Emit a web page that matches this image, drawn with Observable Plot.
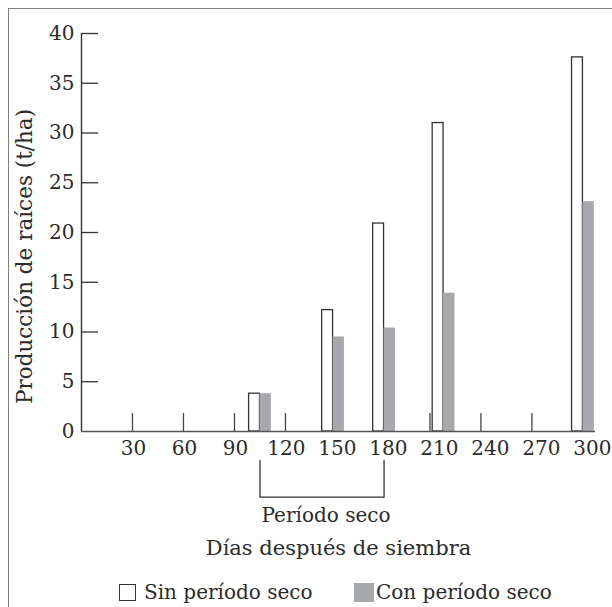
<!DOCTYPE html>
<html>
<head>
<meta charset="utf-8">
<script src="https://cdn.jsdelivr.net/npm/d3@7"></script>
<script src="https://cdn.jsdelivr.net/npm/@observablehq/plot@0.6"></script>
<style>
  html, body { margin: 0; padding: 0; background: #fff; overflow: hidden; }
  #wrap { position: relative; width: 612px; height: 607px; overflow: hidden; font-family: "DejaVu Serif", serif; color: #2b2b2b; }
  #frame { position: absolute; left: 8px; top: 8px; width: 700px; height: 700px; border-left: 1.5px solid #808080; border-top: 1.5px solid #808080; box-sizing: border-box; pointer-events: none; }
  #chart { position: absolute; left: 0; top: 0; }
  #legend { position: absolute; left: 0; top: 581px; width: 612px; height: 26px; font-size: 20px; line-height: 22px; }
  .item { position: absolute; top: 0; display: flex; align-items: center; }
  .sw { display: inline-block; width: 17px; height: 17px; box-sizing: border-box; margin-right: 8px; }
</style>
</head>
<body>
<div id="wrap">
  <div id="chart"></div>
  <div id="legend"></div>
  <div id="frame"></div>
</div>
<script>
// Data
const days = [105, 148, 178, 213, 295];          // sampling position (days after sowing)
const sinSeco = [3.8, 12.2, 20.9, 31.0, 37.6];    // Sin período seco (t/ha)
const conSeco = [3.8, 9.5, 10.4, 13.9, 23.1];     // Con período seco (t/ha)
const xTickLabels = [30, 60, 90, 120, 150, 180, 210, 240, 270, 300];
const baseTicks = [30, 60, 90, 120, 205, 235, 265];
const yTicks = [0, 5, 10, 15, 20, 25, 30, 35, 40];
const dryPeriod = [105, 178];
const seriesNames = ["Sin período seco", "Con período seco"];
const textColor = "#2b2b2b";
const grayFill = "#a7a8ab";

const rows = days.map((d, i) => ({day: d, sin: sinSeco[i], con: conSeco[i]}));
const barW = 6.4;

const bracket = [
  {x: dryPeriod[0], y: -2.9},
  {x: dryPeriod[0], y: -6.6},
  {x: dryPeriod[1], y: -6.6},
  {x: dryPeriod[1], y: -2.9}
];

const chart = Plot.plot({
  width: 612,
  height: 575,
  marginLeft: 81,
  marginRight: 17,
  marginTop: 33,
  marginBottom: 144,
  style: {fontFamily: "DejaVu Serif, serif", fontSize: "20px", color: textColor, background: "transparent", overflow: "visible"},
  x: {domain: [0, 302.4]},
  y: {domain: [0, 40]},
  marks: [
    // bars
    Plot.rectY(rows, {x1: d => d.day - barW, x2: d => d.day, y1: 0, y2: "sin", fill: "white", stroke: "#333", strokeWidth: 1.3}),
    Plot.rectY(rows, {x1: d => d.day, x2: d => d.day + barW + 0.3, y1: 0, y2: "con", fill: grayFill}),
    // small marks on the baseline
    Plot.ruleX(baseTicks, {y1: 0, y2: 1.8, stroke: "#444", strokeWidth: 1.3}),
    // y ticks pointing inward
    Plot.ruleY(yTicks.filter(v => v > 0), {x1: 0, x2: 10, stroke: "#333", strokeWidth: 1.3}),
    // axes lines
    Plot.ruleX([0], {y1: 0, y2: 40, stroke: "#333", strokeWidth: 1.4}),
    Plot.ruleY([0], {x1: 0, x2: 302.4, stroke: "#555", strokeWidth: 1.6}),
    Plot.axisY(yTicks, {tickSize: 0, tickPadding: 7, fontSize: 20, fill: textColor, label: null}),
    Plot.axisX(xTickLabels, {tickSize: 0, tickPadding: 9, fontSize: 20, fill: textColor, label: null, dx: 1}),
    // dry period bracket
    Plot.line(bracket, {x: "x", y: "y", stroke: "#333", strokeWidth: 1.3}),
    Plot.text(["Período seco"], {x: (dryPeriod[0] + dryPeriod[1]) / 2, frameAnchor: "bottom", dy: 84, dx: 4, fontSize: 20, fill: textColor, lineAnchor: "middle", textAnchor: "middle"}),
    Plot.text(["Días después de siembra"], {frameAnchor: "bottom", dy: 117, fontSize: 21, fill: textColor, lineAnchor: "middle", textAnchor: "middle"}),
    Plot.text(["Producción de raíces (t/ha)"], {frameAnchor: "left", rotate: -90, dx: -56, dy: 24, fontSize: 21.5, fill: textColor, lineAnchor: "middle", textAnchor: "middle"})
  ]
});
document.getElementById("chart").appendChild(chart);

// legend
const legend = document.getElementById("legend");
const items = [
  {name: seriesNames[0], left: 119, style: "background:#fff;border:1.3px solid #333;"},
  {name: seriesNames[1], left: 354, style: "background:" + grayFill + ";width:20px;height:19px;margin-right:2px;"}
];
items.forEach(it => {
  const div = document.createElement("div");
  div.className = "item";
  div.style.left = it.left + "px";
  div.innerHTML = `<span class="sw" style="${it.style}"></span><span>${it.name}</span>`;
  legend.appendChild(div);
});
</script>
</body>
</html>
